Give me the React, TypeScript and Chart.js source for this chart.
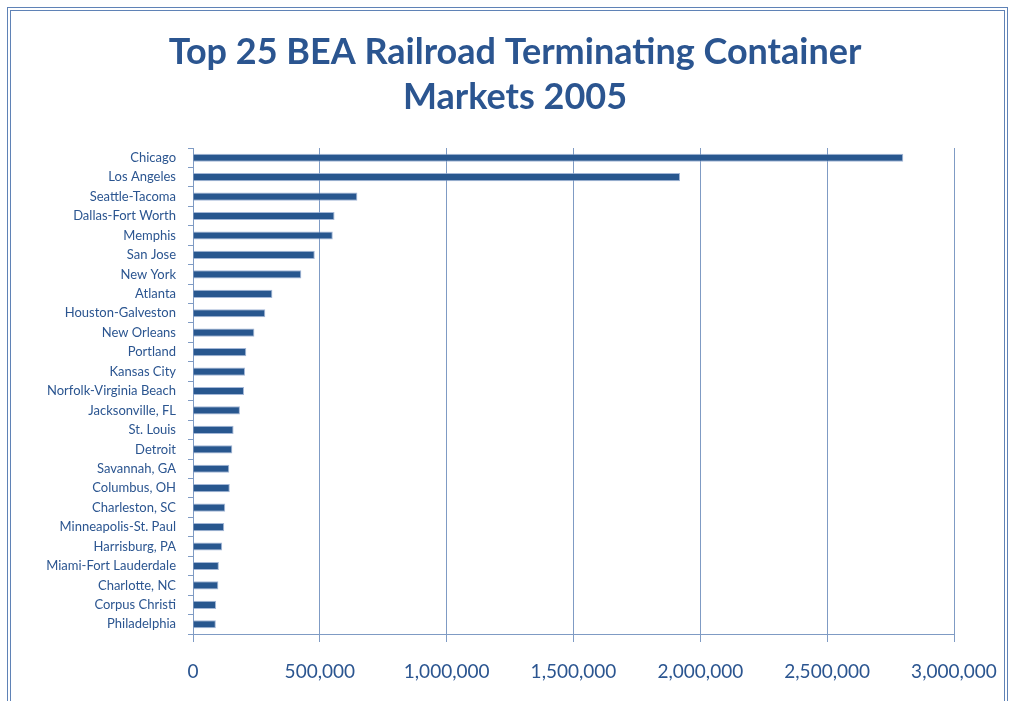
import React, { useEffect, useRef } from "react";
import { Chart, registerables } from "chart.js";

Chart.register(...registerables);

const titleLines = ["Top 25 BEA Railroad Terminating Container", "Markets 2005"];

const markets = [
  "Chicago", "Los Angeles", "Seattle-Tacoma", "Dallas-Fort Worth", "Memphis",
  "San Jose", "New York", "Atlanta", "Houston-Galveston", "New Orleans",
  "Portland", "Kansas City", "Norfolk-Virginia Beach", "Jacksonville, FL", "St. Louis",
  "Detroit", "Savannah, GA", "Columbus, OH", "Charleston, SC", "Minneapolis-St. Paul",
  "Harrisburg, PA", "Miami-Fort Lauderdale", "Charlotte, NC", "Corpus Christi", "Philadelphia",
];

const containers = [
  2800000, 1920000, 648000, 558000, 551000,
  480000, 427000, 313000, 285000, 242000,
  210000, 205000, 201000, 185000, 160000,
  155000, 143000, 145000, 127000, 123000,
  115000, 102000, 100000, 91000, 90000,
];

const xMin = 0;
const xMax = 3000000;
const xStep = 500000;

const TEXT = "#2B5590";
const BAR = "#28578F";
const GRID = "#7F9BC4";

// shifts the title box so it is centred where the original title sits
const titleShift = {
  id: "titleShift",
  afterLayout(chart: any) {
    const t = chart.titleBlock;
    if (t) t.left = 76;
  },
};

export default function App() {
  const ref = useRef<HTMLCanvasElement | null>(null);

  useEffect(() => {
    if (!ref.current) return;
    const chart = new Chart(ref.current, {
      type: "bar",
      data: {
        labels: markets,
        datasets: [
          {
            data: containers,
            backgroundColor: BAR,
            borderColor: "rgba(140,165,205,0.8)",
            borderWidth: 1,
            barPercentage: 0.42,
            categoryPercentage: 1,
          },
        ],
      },
      plugins: [titleShift],
      options: {
        indexAxis: "y",
        animation: false,
        responsive: false,
        maintainAspectRatio: false,
        layout: { padding: { left: 0, right: 58, top: 0, bottom: 0 } },
        plugins: {
          legend: { display: false },
          tooltip: { enabled: false },
          title: {
            display: true,
            text: titleLines,
            color: TEXT,
            font: { family: "Lato, 'Open Sans', sans-serif", size: 36, weight: "bold", lineHeight: 1.25 },
            padding: { top: 29.5, bottom: 28.5 },
          },
        },
        scales: {
          x: {
            min: xMin,
            max: xMax,
            afterFit: (s: any) => {
              s.height = 67;
              s.paddingLeft = 0;
              s.paddingRight = 0;
            },
            ticks: {
              stepSize: xStep,
              color: TEXT,
              padding: 18,
              font: { family: "Lato, 'Open Sans', sans-serif", size: 19 },
              callback: (v: any) => Number(v).toLocaleString("en-US"),
            },
            grid: { color: GRID, lineWidth: 1, tickLength: 8, drawTicks: true },
            border: { color: GRID, width: 1 },
          },
          y: {
            afterFit: (s: any) => { s.width = 193; },
            ticks: {
              color: TEXT,
              padding: 12,
              autoSkip: false,
              font: { family: "Lato, 'Open Sans', sans-serif", size: 13 },
            },
            grid: { drawOnChartArea: false, drawTicks: true, tickLength: 5, color: GRID },
            border: { color: GRID, width: 1 },
          },
        },
      },
    });
    return () => chart.destroy();
  }, []);

  return (
    <div style={{ position: "absolute", left: 0, top: 0, width: 1012, height: 701, background: "#fff", overflow: "hidden" }}>
      <canvas ref={ref} width={1012} height={701} style={{ position: "absolute", left: 0, top: 0 }} />
      <div
        style={{
          position: "absolute",
          left: 7,
          top: 7,
          width: 993,
          height: 720,
          border: "4px double #5F82B6",
          pointerEvents: "none",
        }}
      />
    </div>
  );
}
